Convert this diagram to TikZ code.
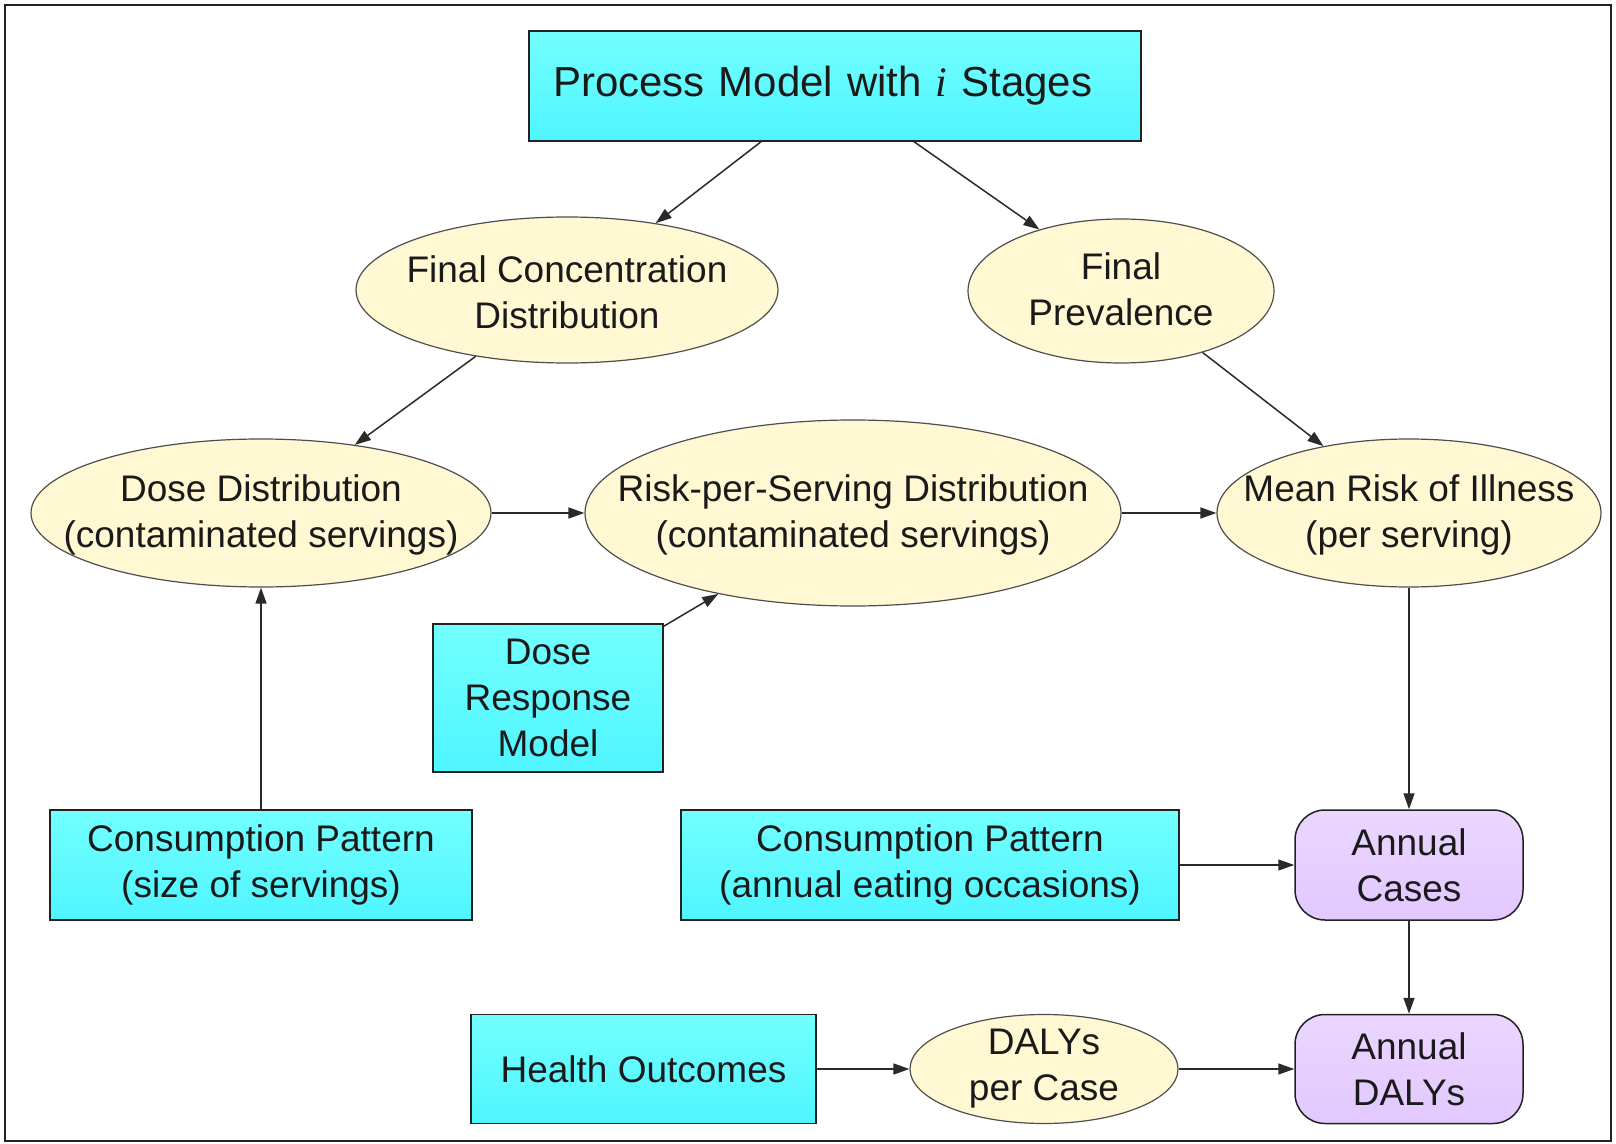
\documentclass[tikz,border=0pt]{standalone}
\usepackage{fontspec}
\setmainfont{Liberation Sans}
\newfontfamily\serifit{Liberation Serif}
\usetikzlibrary{shapes.geometric,arrows.meta}
\definecolor{cyantop}{HTML}{72FFFF}
\definecolor{cyanbot}{HTML}{4FF5FF}
\definecolor{ellfill}{HTML}{FFF8D2}
\definecolor{purtop}{HTML}{EBD6FF}
\definecolor{purbot}{HTML}{E2C8FF}
\definecolor{edge}{HTML}{222222}
\definecolor{txtc}{HTML}{1A1A1A}
\definecolor{linec}{HTML}{2A2A2A}
\tikzset{
  cbox/.style={draw=edge, line width=0.75pt, top color=cyantop, bottom color=cyanbot, rectangle, inner sep=0pt, align=center, text=txtc, font=\fontsize{18.5}{23}\selectfont},
  ell/.style={draw=edge!80, line width=0.6pt, fill=ellfill, ellipse, inner sep=0pt},
  ptxt/.style={align=center, text=txtc, font=\fontsize{18.5}{23}\selectfont, inner sep=0pt},
  pbox/.style={draw=edge, line width=0.75pt, top color=purtop, bottom color=purbot, rectangle, rounded corners=15pt, inner sep=0pt, align=center, text=txtc, font=\fontsize{18.5}{23}\selectfont},
  arr/.style={draw=linec, line width=0.75pt, -{Triangle[length=8pt,width=5.5pt]}}
}
\begin{document}
\begin{tikzpicture}[x=0.5pt,y=-0.5pt]
\useasboundingbox (0,0) rectangle (1616,1144);
\draw[line width=0.9pt, draw=edge] (5,5) rectangle (1611,1141);

% title
\node[cbox, minimum width=306pt, minimum height=55pt, text width=282pt, align=left, inner xsep=12pt, font=\fontsize{21}{25}\selectfont] (title) at (835,86) {Process Model with {\serifit\itshape i} Stages};

% ellipses
\node[ell, minimum width=211pt, minimum height=73pt] (fcd) at (567,290) {};
\node[ptxt] (fcdt) at ([yshift=-1pt]fcd.center) {Final Concentration\\ Distribution};
\node[ell, minimum width=153pt, minimum height=72pt] (fp) at (1121,291) {};
\node[ptxt] (fpt) at ([yshift=1pt]fp.center) {Final\\ Prevalence};
\node[ell, minimum width=230pt, minimum height=74pt] (dose) at (261,513) {};
\node[ptxt] (doset) at ([yshift=-1pt]dose.center) {Dose Distribution\\ (contaminated servings)};
\node[ell, minimum width=268pt, minimum height=93pt] (risk) at (853,513) {};
\node[ptxt] (riskt) at ([yshift=-1pt]risk.center) {Risk-per-Serving Distribution\\ (contaminated servings)};
\node[ell, minimum width=192pt, minimum height=74pt] (mean) at (1409,513) {};
\node[ptxt] (meant) at ([yshift=-1pt]mean.center) {Mean Risk of Illness\\ (per serving)};
\node[ell, minimum width=134pt, minimum height=54.5pt] (dpc) at (1044,1069) {};
\node[ptxt] (dpct) at (dpc) {DALYs\\ per Case};

% boxes
\node[cbox, minimum width=115pt, minimum height=74pt] (dr) at (548,698) {Dose\\ Response\\ Model};
\node[cbox, minimum width=211pt, minimum height=55pt] (cs) at (261,865) {Consumption Pattern\\ (size of servings)};
\node[cbox, minimum width=249pt, minimum height=55pt] (ca) at (930,865) {Consumption Pattern\\ (annual eating occasions)};
\node[cbox, minimum width=172.5pt, minimum height=54.5pt] (ho) at (643.5,1069) {Health Outcomes};
\node[pbox, minimum width=114pt, minimum height=55pt] (cases) at (1409,865) {Annual\\ Cases};
\node[pbox, minimum width=114pt, minimum height=54.5pt] (dalys) at (1409,1069) {Annual\\ DALYs};

% connectors
\draw[arr] ([xshift=-37pt]title.south) -- (fcd.37.7);
\draw[arr] ([xshift=39.5pt]title.south) -- (fp.143.1);
\draw[arr] (fcd.216.8) -- (dose.36.3);
\draw[arr] (fp.-37.8) -- (mean.142.2);
\draw[arr] (dose.east) -- (risk.west);
\draw[arr] (risk.east) -- (mean.west);
\draw[arr] (cs.north) -- (dose.south);
\draw[arr] ([yshift=-1.5pt]dr.north east) -- (risk.211.8);
\draw[arr] (mean.south) -- (cases.north);
\draw[arr] (ca.east) -- (cases.west);
\draw[arr] (cases.south) -- (dalys.north);
\draw[arr] (ho.east) -- (dpc.west);
\draw[arr] (dpc.east) -- (dalys.west);
\end{tikzpicture}
\end{document}
